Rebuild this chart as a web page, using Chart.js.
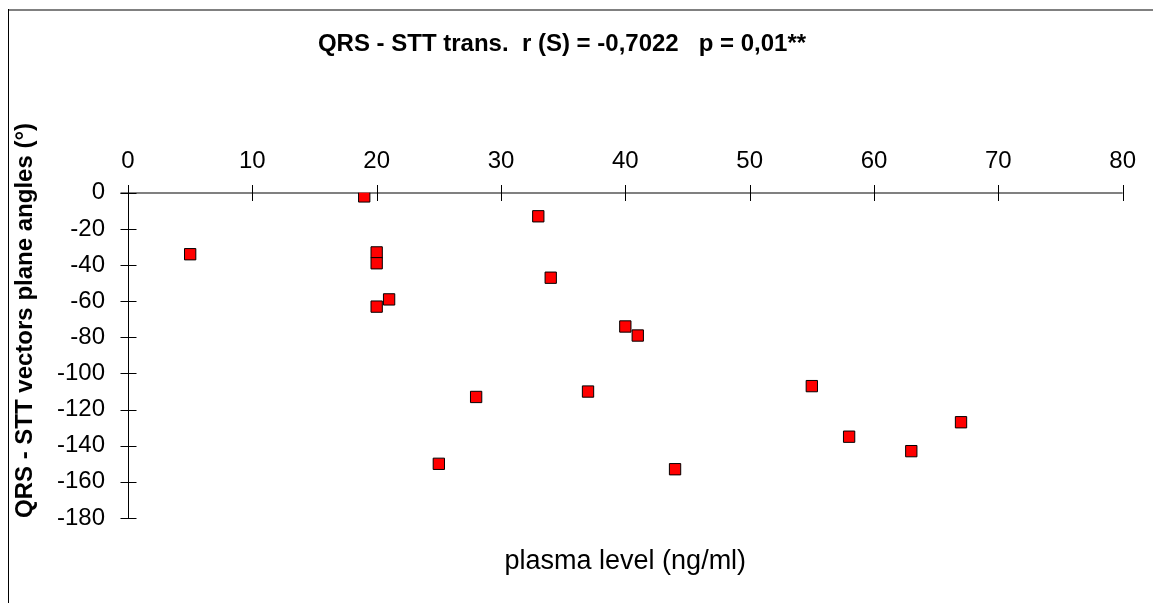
<!DOCTYPE html>
<html lang="en">

<head>
    <meta charset="UTF-8">
    <meta name="viewport" content="width=device-width, initial-scale=1.0">
    <title>QRS - STT trans.</title>
    <style>
        html, body { margin: 0; padding: 0; background: #fff; }
        .grafico-box { width: 1153px; height: 603px; }
    </style>
</head>

<body>
    <div class="grafico-box">
        <canvas id="grafico1"></canvas>
    </div>

    <script src="https://cdn.jsdelivr.net/npm/chart.js"></script>
    <script>
        // plasma level (ng/ml) and QRS - STT angle for each patient
        var plasma = [5, 19, 20, 20, 20, 21, 25, 28, 33, 34, 37, 40, 41, 44, 55, 58, 63, 67]
        var angulos = [-34, -2, -33, -39, -63, -59, -150, -113, -13, -47, -110, -74, -79, -153, -107, -135, -143, -127]

        // axis ranges / ticks
        var ticksX = [0, 10, 20, 30, 40, 50, 60, 70, 80]
        var ticksY = [0, -20, -40, -60, -80, -100, -120, -140, -160, -180]

        var titulo = 'QRS - STT trans.  r (S) = -0,7022   p = 0,01**'
        var tituloX = 'plasma level (ng/ml)'
        var tituloY = 'QRS - STT vectors plane angles (°)'

        Chart.defaults.font.family = '"Liberation Sans", Arial, sans-serif'
        Chart.defaults.color = '#000'

        var pontos = plasma.map((x, i) => ({ x: x, y: angulos[i] }))

        // frame + axes crossing ticks (drawn under the points)
        const eixos = {
            id: 'eixos',
            beforeDraw(chart) {
                const ctx = chart.ctx
                ctx.save()
                ctx.fillStyle = '#fff'
                ctx.fillRect(0, 0, chart.width, chart.height)
                ctx.fillStyle = '#808080'
                ctx.fillRect(8, 9, chart.width - 8, 2)
                ctx.fillStyle = '#000'
                ctx.fillRect(8, 9, 1, chart.height - 9)
                ctx.restore()
            },
            beforeDatasetsDraw(chart) {
                const { ctx, scales: { x, y } } = chart
                const y0 = Math.round(y.getPixelForValue(0))
                const x0 = Math.round(x.getPixelForValue(0)) + 0.5
                ctx.save()
                ctx.strokeStyle = '#808080'
                ctx.lineWidth = 2
                ctx.beginPath()
                ctx.moveTo(x0 - 8, y0)
                ctx.lineTo(x.right, y0)
                ctx.stroke()

                ctx.strokeStyle = '#000'
                ctx.lineWidth = 1
                ctx.beginPath()
                ctx.moveTo(x0, y0)
                ctx.lineTo(x0, Math.round(y.bottom))
                x.ticks.forEach(t => {
                    const px = Math.round(x.getPixelForValue(t.value)) + 0.5
                    ctx.moveTo(px, y0 - 8)
                    ctx.lineTo(px, y0 + 8)
                })
                y.ticks.forEach(t => {
                    const py = Math.round(y.getPixelForValue(t.value)) + 0.5
                    ctx.moveTo(x0 - 8, py)
                    ctx.lineTo(x0 + 8, py)
                })
                ctx.stroke()
                ctx.restore()
            }
        }

        const ctx1 = document.getElementById('grafico1')

        new Chart(ctx1, {
            type: 'scatter',
            data: {
                datasets: [{
                    label: 'QRS - STT',
                    data: pontos,
                    xAxisID: 'x',
                    yAxisID: 'y',
                    pointStyle: 'rect',
                    pointRadius: 8,
                    pointHoverRadius: 8,
                    backgroundColor: '#ff0000',
                    borderColor: '#000',
                    borderWidth: 1
                }]
            },
            options: {
                responsive: true,
                maintainAspectRatio: false,
                animation: false,
                layout: { padding: { left: 0, right: 29, top: 0, bottom: 0 } },
                plugins: {
                    legend: { display: false },
                    tooltip: { enabled: false },
                    title: {
                        display: true,
                        text: titulo,
                        color: '#000',
                        font: { size: 24, weight: 'bold' },
                        padding: { top: 30, bottom: 41 }
                    }
                },
                scales: {
                    x: {
                        type: 'linear',
                        position: 'top',
                        min: ticksX[0],
                        max: ticksX[ticksX.length - 1],
                        afterBuildTicks: s => { s.ticks = ticksX.map(v => ({ value: v })) },
                        ticks: { font: { size: 24 }, padding: 17, color: '#000' },
                        grid: { display: false, drawTicks: false },
                        border: { display: false },
                        afterFit: s => { s.height = 93 }
                    },
                    x2: {
                        type: 'linear',
                        position: 'bottom',
                        display: true,
                        min: ticksX[0],
                        max: ticksX[ticksX.length - 1],
                        ticks: { display: false },
                        grid: { display: false, drawTicks: false },
                        border: { display: false },
                        title: {
                            display: true,
                            text: tituloX,
                            color: '#000',
                            font: { size: 27 },
                            padding: { top: 0, bottom: 25 }
                        },
                        afterFit: s => { s.height = 85 }
                    },
                    y: {
                        type: 'linear',
                        position: 'left',
                        min: ticksY[ticksY.length - 1],
                        max: ticksY[0],
                        afterBuildTicks: s => { s.ticks = ticksY.map(v => ({ value: v })) },
                        ticks: { font: { size: 24 }, padding: 23, color: '#000' },
                        grid: { display: false, drawTicks: false },
                        border: { display: false },
                        title: {
                            display: true,
                            text: tituloY,
                            align: 'start',
                            color: '#000',
                            font: { size: 24, weight: 'bold' },
                            padding: { top: 11, bottom: 0 }
                        },
                        afterFit: s => { s.width = 128 }
                    }
                }
            },
            plugins: [eixos]
        })
    </script>
</body>

</html>
